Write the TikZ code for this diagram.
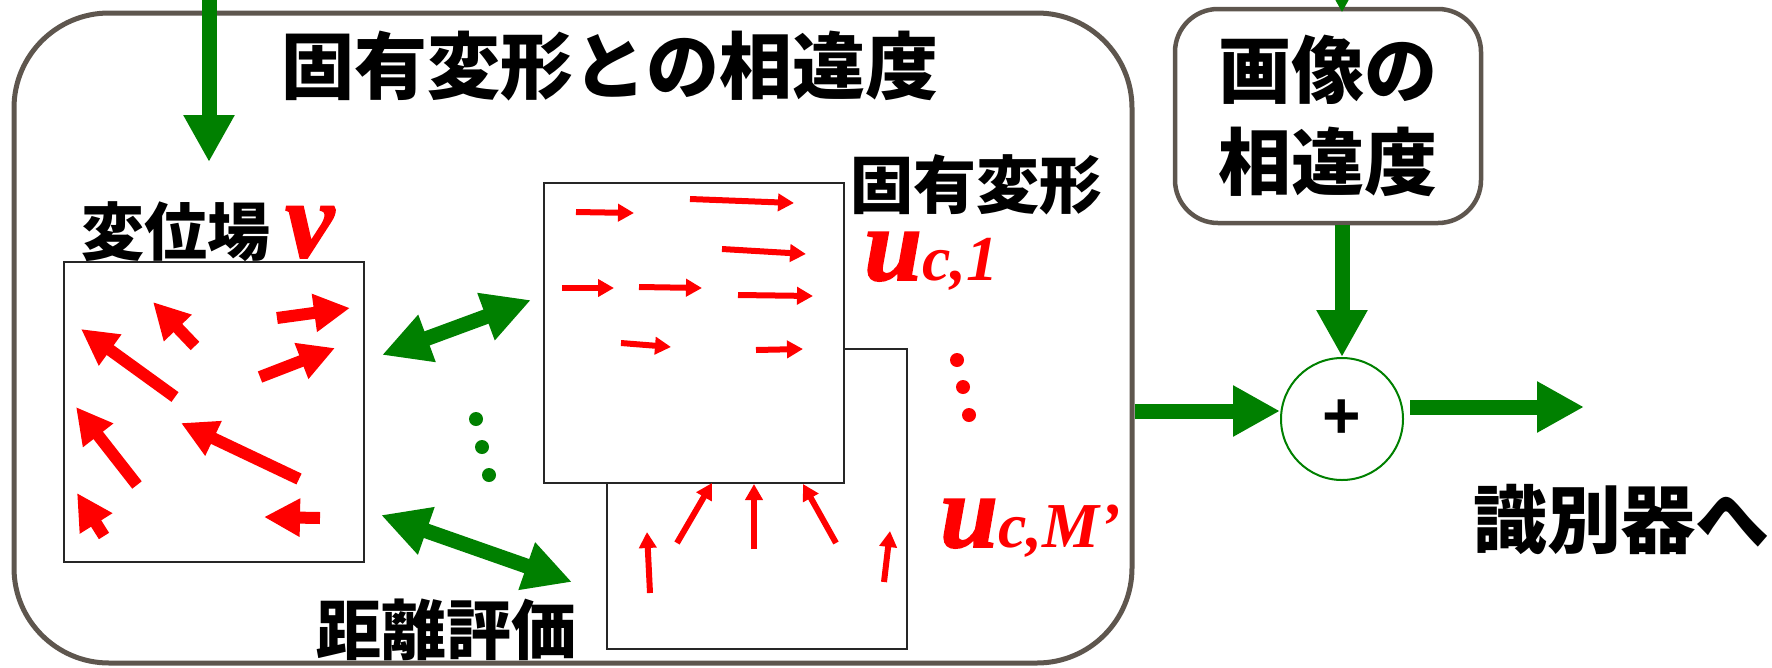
\documentclass[tikz,border=0pt]{standalone}
\usepackage{fontspec}
\newfontfamily\jp{Noto Sans CJK JP}
\newfontfamily\rmlab{Liberation Serif}
\newfontfamily\rmlabx{Liberation Serif}[BoldItalicFeatures={FakeBold=1.6}]
\newfontfamily\plusfont{Liberation Sans}
\usetikzlibrary{arrows.meta}
\definecolor{gr}{RGB}{0,128,0}
\definecolor{rd}{RGB}{255,0,0}
\definecolor{framec}{RGB}{94,86,78}
\tikzset{
  garrow/.style={draw=gr, line width=15pt, -{Triangle[length=47pt,width=48pt]}},
  gdarrow/.style={draw=gr, line width=15pt, {Triangle[length=48pt,width=47pt]}-{Triangle[length=48pt,width=47pt]}},
  rbig/.style={draw=rd, line width=12pt, -{Triangle[length=36pt,width=36pt]}},
  rsmall/.style={draw=rd, line width=6pt, -{Triangle[length=16pt,width=17pt]}},
  field/.style={draw=black!85, line width=2pt, fill=white, minimum width=300pt, minimum height=300pt, inner sep=0pt},
  jptext/.style={font=\jp\bfseries\fontsize{#1pt}{#1pt}\selectfont, inner sep=0pt},
  redlab/.style={text=rd, inner sep=0pt, anchor=base west, font=\rmlab\bfseries\itshape, text height=50pt, text depth=10pt},
  rbox/.style={draw=framec, fill=white},
}
\newcommand\heavyit[2]{{\rmlabx\bfseries\itshape\fontsize{#1}{#1}\selectfont #2}}
\begin{document}
\begin{tikzpicture}[x=1pt,y=-1pt]
\useasboundingbox (0,0) rectangle (1772,667);
% outer box
\node[rbox, line width=5pt, rounded corners=95pt, minimum width=1118pt, minimum height=650pt, inner sep=0pt] (outer) at (573,338) {};
\node[jptext=73] (title) at (610,66) {固有変形との相違度};
% incoming arrow top-left
\coordinate (vin) at (209,-10);
\coordinate (vinend) at (209,162);
\draw[garrow] (vin) -- (vinend);
% displacement field
\node[jptext=63] (vlab) at (176,232) {変位場};
\node[redlab] (vsym) at (285,257) {\heavyit{110pt}{v}};
\node[field] (vbox) at (214,412) {};
\draw[rbig] (277,318) -- (350,308);
\draw[rbig] (260,377) -- (335,348);
\draw[rbig] (195,346) -- (153,302);
\draw[rbig] (175,397) -- (81,329);
\draw[rbig] (137,485) -- (76,407);
\draw[rbig] (299,479) -- (181,423);
\draw[rbig] (104,536) -- (77,493);
\draw[rbig] (320,518) -- (264,517);
% eigen deformations
\node[field] (ubox2) at (757,499) {};
\node[field] (ubox1) at (694,333) {};
\draw[rsmall] (576,212) -- (634,213);
\draw[rsmall] (690,199) -- (794,203);
\draw[rsmall] (722,249) -- (806,254);
\draw[rsmall] (562,288) -- (614,288);
\draw[rsmall] (639,287) -- (702,288);
\draw[rsmall] (738,295) -- (813,296);
\draw[rsmall] (621,343) -- (671,347);
\draw[rsmall] (756,350) -- (803,349);
\draw[rsmall] (650,593) -- (647,532);
\draw[rsmall] (677,543) -- (712,483);
\draw[rsmall] (754,549) -- (754,484);
\draw[rsmall] (836,543) -- (803,484);
\draw[rsmall] (884,582) -- (890,531);
\node[jptext=63] (ulab) at (976,185) {固有変形};
\node[redlab] (u1) at (864,280) {\heavyit{104pt}{u}\fontsize{64pt}{64pt}\selectfont c,1};
\node[redlab] (uM) at (940,547) {\heavyit{104pt}{u}\fontsize{64pt}{64pt}\selectfont c,M’};
\fill[rd] (957,360) circle (7pt) (963,387) circle (7pt) (969,415) circle (7pt);
% distance evaluation
\coordinate (d1a) at (382,355);
\coordinate (d1b) at (531,300);
\coordinate (d2a) at (381,515);
\coordinate (d2b) at (572,582);
\draw[gdarrow] (d1a) -- (d1b);
\draw[gdarrow] (d2a) -- (d2b);
\fill[gr] (476,419) circle (7pt) (482,447) circle (7pt) (489,475) circle (7pt);
\node[jptext=65] (dist) at (446,630) {距離評価};
% image dissimilarity
\node[rbox, line width=4.5pt, rounded corners=43pt, minimum width=306pt, minimum height=214pt, inner sep=0pt, align=center, font=\jp\bfseries\fontsize{73pt}{92pt}\selectfont] (img) at (1328,116) {画像の\\相違度};
\coordinate (imgin) at (1342,-40);
\draw[garrow, shorten >=-6pt] (imgin) -- (img.north -| imgin);
% sum
\node[circle, draw=gr, line width=2pt, minimum size=122pt, inner sep=0pt, font=\plusfont\bfseries\fontsize{66pt}{66pt}\selectfont] (sum) at (1342,419) {+};
\draw[garrow] (img.south -| sum) -- (sum.north);
\draw[garrow] (outer.east |- 0,411) -- (sum.west |- 0,411);
\coordinate (out) at (1584,407);
\draw[garrow, shorten <=6pt] (sum.east |- out) -- (out);
\node[jptext=74] (cls) at (1621,520) {識別器へ};
\end{tikzpicture}
\end{document}
